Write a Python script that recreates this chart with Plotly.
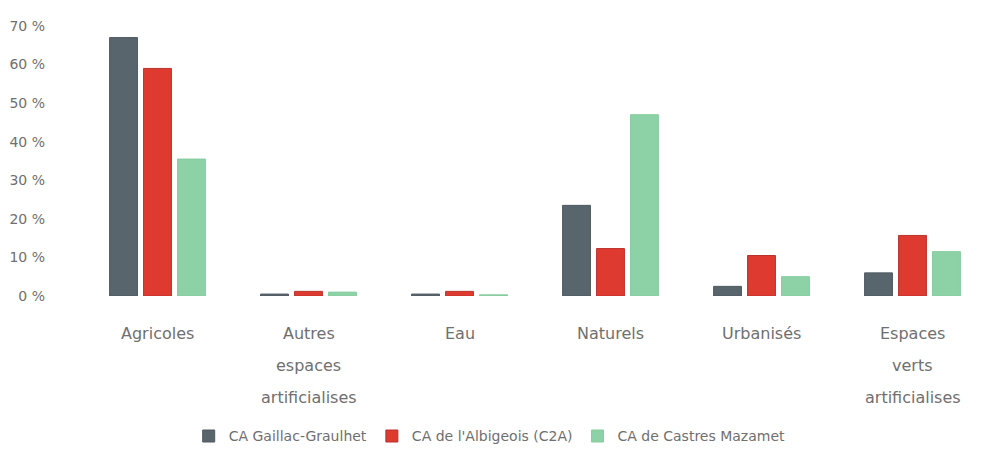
import plotly.graph_objects as go

# Land-use categories (x axis)
categories = ["Agricoles", "Autres espaces artificialises", "Eau", "Naturels",
              "Urbanisés", "Espaces verts artificialises"]
# Label lines drawn under each category
category_lines = [["Agricoles"], ["Autres", "espaces", "artificialises"], ["Eau"],
                  ["Naturels"], ["Urbanisés"], ["Espaces", "verts", "artificialises"]]

# Share of each land-use type (%)
gaillac = [67.0, 0.5, 0.5, 23.5, 2.5, 6.0]
albigeois = [59.0, 1.2, 1.2, 12.3, 10.5, 15.7]
castres = [35.5, 1.0, 0.3, 47.0, 5.0, 11.5]

series_names = ["CA Gaillac-Graulhet", "CA de l'Albigeois (C2A)", "CA de Castres Mazamet"]
series_values = [gaillac, albigeois, castres]
series_colors = ["#59656d", "#df3a30", "#8dd2a6"]
series_edges = ["#4e5960", "#b8332c", "#86cb9f"]

y_ticks = [0, 10, 20, 30, 40, 50, 60, 70]
y_tick_labels = [f"{v} %" for v in y_ticks]

text_color = "#6f6f6f"
font_family = "DejaVu Sans"

fig = go.Figure()
for name, vals, col, edge in zip(series_names, series_values, series_colors, series_edges):
    fig.add_trace(go.Bar(
        x=categories, y=vals, name=name,
        marker=dict(color=col, line=dict(color=edge, width=1)),
    ))

# Category labels with generous line spacing
for cat, lines in zip(categories, category_lines):
    for i, line in enumerate(lines):
        fig.add_annotation(
            x=cat, y=0, xref="x", yref="y", text=line, showarrow=False,
            yshift=-(37 + 32 * i), yanchor="middle",
            font=dict(family=font_family, size=16, color=text_color),
        )

fig.update_layout(
    width=988, height=461,
    margin=dict(l=82, r=0, t=26, b=165),
    paper_bgcolor="white", plot_bgcolor="white",
    barmode="group", bargap=0.325, bargroupgap=0.18,
    showlegend=True,
    legend=dict(
        orientation="h", x=0.45, xanchor="center", y=-0.52, yanchor="middle",
        font=dict(family=font_family, size=14, color=text_color),
        itemwidth=30, traceorder="normal",
    ),
    font=dict(family=font_family, color=text_color),
)
fig.update_xaxes(showticklabels=False, showgrid=False, zeroline=False, showline=False)
fig.update_yaxes(
    range=[0, 70], tickvals=y_ticks, ticktext=y_tick_labels,
    showgrid=False, zeroline=False, showline=False,
    ticklabelstandoff=36,
    tickfont=dict(family=font_family, size=14, color=text_color),
)

fig.write_html("out.html")
